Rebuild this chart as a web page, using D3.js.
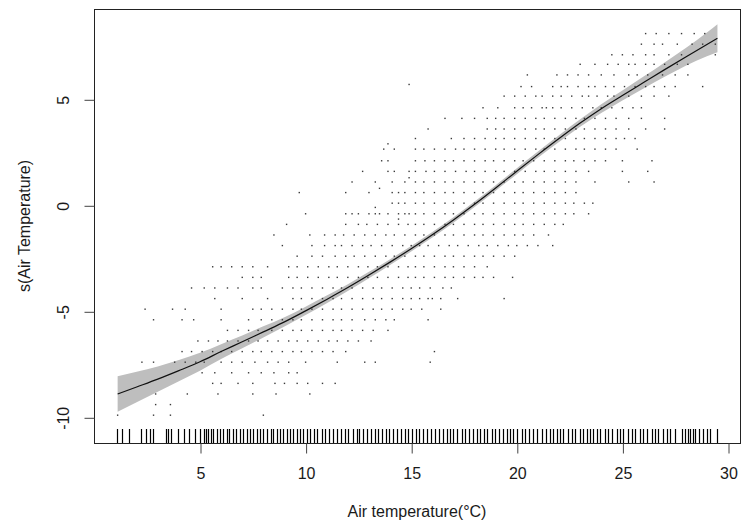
<!DOCTYPE html>
<html>
<head>
<meta charset="utf-8">
<script src="https://cdn.jsdelivr.net/npm/d3@7"></script>
<style>
  html, body { margin: 0; padding: 0; background: #fff; }
  svg text { font-family: "Liberation Sans", Arial, sans-serif; fill: #1a1a1a; }
</style>
</head>
<body>
<svg id="chart" width="742" height="529"></svg>
<script>
// ---- data ----
const xTicks = [5, 10, 15, 20, 25, 30];
const yTicks = [-10, -5, 0, 5];
const xTitle = "Air temperature(°C)";
const yTitle = "s(Air Temperature)";

// fitted smooth and half-width of the confidence band
const smoothX  = [1.1, 2, 3, 4, 5, 6, 7, 8, 9, 10, 11, 12, 13, 14, 15, 16, 17, 18, 19, 20, 21, 22, 23, 24, 25, 26, 27, 28, 29, 29.5];
const smoothY  = [-8.9, -8.57, -8.2, -7.8, -7.38, -6.9, -6.44, -5.97, -5.5, -4.98, -4.44, -3.88, -3.29, -2.68, -2.05, -1.39, -0.69, 0.05, 0.82, 1.61, 2.39, 3.15, 3.88, 4.56, 5.18, 5.79, 6.4, 7.0, 7.59, 7.88];
const smoothSE = [0.84, 0.72, 0.6, 0.5, 0.42, 0.35, 0.3, 0.26, 0.22, 0.2, 0.18, 0.16, 0.15, 0.14, 0.13, 0.13, 0.13, 0.13, 0.13, 0.14, 0.15, 0.16, 0.18, 0.21, 0.24, 0.28, 0.34, 0.42, 0.56, 0.66];

// partial residuals, grouped by residual level (rows)
const residLevels = [8.1, 7.6, 7.1, 6.65, 6.15, 5.7, 5.6, 5.15, 4.6, 4.1, 3.6, 3.15, 2.9, 2.65, 2.1, 1.6, 1.3, 1.1, 0.8, 0.6, 0.1, -0.1, -0.4, -0.65, -0.9, -1.4, -1.9, -2.4, -2.9, -3.4, -3.9, -4.4, -4.9, -5.4, -5.9, -6.4, -6.9, -7.4, -7.9, -8.4, -8.9, -9.4, -9.9];
const residTemps = [
  [26.1, 26.6, 27.2, 27.8, 28.4, 28.9],
  [25.9, 26.5, 26.9, 27.6, 28.3, 28.8, 29.4],
  [24.5, 25.0, 25.5, 26.1, 26.5, 27.2, 27.8, 29.4],
  [23.0, 23.7, 24.3, 24.8, 25.3, 25.6, 26.1, 26.5, 27.0, 27.6, 28.1],
  [20.5, 21.9, 22.4, 22.9, 23.4, 24.0, 24.6, 25.3, 25.7, 26.2, 26.9, 27.5, 28.1],
  [14.9],
  [20.2, 20.7, 21.7, 22.1, 22.4, 22.9, 23.4, 23.7, 24.2, 24.6, 25.1, 25.6, 26.1, 26.5, 27.0, 27.5, 28.8],
  [19.4, 19.9, 20.4, 20.9, 21.2, 21.7, 22.1, 22.6, 23.1, 23.4, 23.8, 24.3, 24.6, 25.3, 25.9, 26.5, 27.2],
  [18.4, 19.1, 19.9, 20.3, 20.7, 21.2, 21.4, 21.7, 22.1, 22.6, 23.1, 23.6, 24.0, 24.5, 25.0, 25.5, 25.9],
  [16.6, 17.4, 18.0, 18.6, 19.0, 19.4, 19.9, 20.4, 20.9, 21.3, 21.8, 22.3, 22.8, 23.2, 23.7, 24.2, 24.7, 25.3, 25.9, 27.0],
  [15.8, 18.6, 19.0, 19.4, 19.9, 20.4, 20.9, 21.3, 21.8, 22.3, 22.8, 23.2, 23.7, 24.2, 24.7, 25.3, 26.1, 27.0],
  [15.2, 16.9, 17.5, 18.0, 18.5, 19.0, 19.4, 19.9, 20.4, 20.9, 21.3, 21.8, 22.3, 22.8, 23.2, 23.7, 24.2, 24.7, 25.1, 25.6],
  [13.9],
  [13.7, 14.2, 15.2, 15.6, 16.1, 16.6, 17.1, 17.5, 18.0, 18.5, 19.0, 19.4, 19.9, 20.4, 20.9, 21.3, 21.8, 22.3, 22.8, 23.2, 23.7, 24.2, 24.7, 25.7],
  [13.6, 13.9, 15.2, 15.65, 16.1, 16.6, 17.0, 17.5, 18.0, 18.5, 18.9, 19.4, 19.9, 20.3, 20.8, 21.3, 21.8, 22.3, 22.7, 23.2, 23.7, 24.2, 25.0, 26.4],
  [12.7, 13.9, 14.2, 14.9, 15.2, 15.7, 16.1, 16.6, 17.1, 17.6, 18.0, 18.5, 19.0, 19.4, 19.9, 20.4, 20.9, 21.3, 21.8, 22.3, 22.8, 23.4, 25.0, 26.2],
  [14.9],
  [12.2, 13.3, 14.1, 14.7, 15.2, 15.6, 16.1, 16.6, 17.0, 17.5, 18.0, 18.4, 18.9, 19.4, 19.9, 20.3, 20.8, 21.3, 21.8, 22.3, 22.8, 23.7, 25.3, 26.5],
  [13.5],
  [9.7, 11.9, 13.0, 14.1, 14.4, 14.7, 15.2, 15.6, 16.1, 16.6, 17.0, 17.5, 18.0, 18.4, 18.9, 19.4, 19.9, 20.3, 20.8, 21.3, 21.8, 22.3, 22.8],
  [14.1, 14.4, 14.7, 15.2, 15.6, 16.1, 16.6, 17.0, 17.5, 18.0, 18.4, 18.9, 19.4, 19.9, 20.3, 20.8, 21.3, 21.8, 22.3, 22.7, 23.2, 23.6],
  [13.3],
  [10.0, 11.9, 12.2, 12.5, 13.0, 13.3, 13.5, 13.9, 14.4, 14.7, 14.9, 15.2, 15.6, 16.1, 16.6, 17.0, 17.5, 18.0, 18.4, 18.9, 19.4, 19.9, 20.3, 20.8, 21.3, 21.8, 22.3, 22.7, 23.4],
  [14.4],
  [9.1, 11.9, 12.5, 12.9, 13.4, 13.9, 14.4, 14.85, 15.2, 15.6, 16.1, 16.6, 17.0, 17.5, 18.0, 18.4, 18.9, 19.4, 19.9, 20.3, 20.8, 21.3, 21.8, 22.2],
  [8.5, 10.2, 10.9, 11.4, 11.8, 12.3, 12.8, 13.3, 13.8, 14.2, 14.7, 15.2, 15.6, 16.1, 16.6, 17.0, 17.5, 18.0, 18.4, 18.9, 19.4, 19.9, 20.3, 20.8, 21.5],
  [8.9, 10.3, 10.9, 11.4, 11.7, 12.2, 12.7, 13.1, 13.6, 14.1, 14.6, 15.0, 15.4, 15.8, 16.3, 16.8, 17.2, 17.7, 18.2, 18.6, 19.1, 19.6, 20.0, 20.5, 21.0, 21.7],
  [9.6, 10.3, 10.8, 11.4, 11.9, 12.3, 12.8, 13.3, 13.8, 14.2, 14.7, 15.2, 15.6, 16.1, 16.6, 17.0, 17.5, 18.0, 18.4, 18.9, 19.4, 19.9],
  [5.6, 6.0, 6.5, 7.0, 7.5, 8.2, 9.2, 9.6, 10.1, 10.6, 11.1, 11.5, 12.0, 12.5, 12.95, 13.4, 13.9, 14.4, 14.85, 15.2, 15.6, 16.1, 16.6, 17.0, 17.5, 18.0, 18.6],
  [7.0, 7.5, 7.9, 9.2, 9.6, 10.1, 10.6, 11.1, 11.5, 12.0, 12.5, 12.95, 13.4, 13.9, 14.4, 14.85, 15.2, 15.6, 16.1, 16.6, 17.0, 17.5, 18.0, 18.4, 18.9, 19.8],
  [4.6, 5.2, 5.7, 6.3, 6.8, 7.5, 7.9, 8.9, 9.4, 9.8, 10.3, 10.8, 11.3, 11.7, 12.2, 12.7, 13.2, 13.6, 14.1, 14.6, 15.0, 15.4, 15.9, 16.5, 16.9],
  [5.7, 7.0, 8.2, 9.4, 9.8, 10.3, 10.8, 11.3, 11.7, 12.2, 12.7, 13.2, 13.6, 14.1, 14.6, 15.0, 15.4, 15.8, 16.0, 16.4, 17.2, 19.4],
  [2.4, 3.7, 4.3, 6.0, 7.5, 7.9, 8.4, 8.9, 9.4, 9.8, 10.3, 10.8, 11.3, 11.7, 12.2, 12.7, 13.2, 13.6, 14.1, 14.6, 15.0, 15.5, 16.4],
  [2.8, 4.15, 4.7, 6.0, 7.3, 7.9, 8.4, 8.9, 9.4, 9.8, 10.3, 10.8, 11.3, 11.7, 12.2, 12.8, 13.3, 13.8, 14.2, 15.8],
  [6.3, 6.8, 7.3, 7.75, 8.4, 8.9, 9.4, 9.8, 10.3, 10.8, 11.3, 11.7, 12.2, 12.7, 13.2, 13.9],
  [4.9, 5.4, 5.85, 6.3, 6.8, 7.3, 7.75, 8.2, 8.7, 9.2, 9.6, 10.1, 10.6, 11.1, 11.5, 12.0, 12.5, 13.1],
  [4.15, 4.6, 5.1, 5.6, 6.0, 6.5, 7.0, 7.5, 7.9, 8.4, 8.9, 9.4, 9.8, 10.3, 10.8, 11.3, 11.9, 16.1],
  [2.25, 2.8, 3.8, 4.3, 4.8, 5.2, 6.0, 6.5, 7.0, 7.6, 8.2, 8.7, 9.2, 10.0, 11.5, 12.8, 13.3, 15.9],
  [5.1, 5.7, 6.5, 7.3, 7.9, 8.5, 9.2, 9.6],
  [5.6, 6.0, 6.8, 7.5, 8.55, 9.0, 9.6, 10.1, 10.8, 11.4],
  [2.9, 4.4, 5.85, 7.5, 8.6, 10.2],
  [2.9, 3.6],
  [1.1, 2.8, 3.6, 8.0]
];

// rug: observed temperatures
const rugTemps = [1.08, 1.32, 1.64, 2.19, 2.44, 2.63, 2.79, 3.39, 3.50, 3.63, 3.97, 4.24, 4.49, 4.76, 5.00, 5.19, 5.27, 5.39, 5.50, 5.63, 5.79, 5.95, 6.10, 6.26, 6.39, 6.55, 6.70, 6.89, 7.05, 7.21, 7.37, 7.52, 7.68, 7.84, 8.00, 8.16, 8.35, 8.47, 8.63, 8.79, 8.94, 9.10, 9.26, 9.42, 9.58, 9.73, 9.89, 10.05,
  10.21, 10.40, 10.55, 10.76, 10.92, 11.12, 11.31, 11.50, 11.66, 11.87, 12.02, 12.23, 12.42, 12.54, 12.70, 12.89, 13.08, 13.29, 13.44, 13.60, 13.81, 13.96, 14.15, 14.34, 14.50, 14.71, 14.86, 15.02, 15.23, 15.38, 15.54, 15.73, 15.92, 16.13, 16.33, 16.49, 16.68, 16.84, 16.99, 17.18, 17.39, 17.55, 17.75, 17.94, 18.10, 18.26, 18.45, 18.60, 18.81, 18.97, 19.17, 19.33, 19.52,
  19.68, 19.83, 19.99, 20.23, 20.39, 20.59, 20.78, 20.94, 21.18, 21.38, 21.57, 21.73, 21.89, 22.04, 22.20, 22.44, 22.60, 22.76, 22.99, 23.15, 23.31, 23.47, 23.62, 23.78, 23.94, 24.18, 24.33, 24.49, 24.73, 24.89, 25.04, 25.25, 25.44, 25.60, 25.83, 25.99, 26.15, 26.39, 26.54, 26.70, 26.94, 27.10, 27.25, 27.49, 27.81, 27.96, 28.09, 28.20, 28.33, 28.44, 28.64, 28.83, 28.99, 29.15, 29.46];

// ---- layout ----
const box = { left: 94, top: 9, right: 740, bottom: 443 };
const svg = d3.select("#chart");

const x = d3.scaleLinear().domain([5, 30]).range([200, 728]);
const y = d3.scaleLinear().domain([-10, 5]).range([417.3, 99.3]);

const smooth = smoothX.map((v, i) => ({ x: v, y: smoothY[i], se: smoothSE[i] }));

// confidence band
svg.append("path")
  .datum(smooth)
  .attr("d", d3.area().x(d => x(d.x)).y0(d => y(d.y - d.se)).y1(d => y(d.y + d.se)).curve(d3.curveMonotoneX))
  .attr("fill", "#bebebe")
  .attr("stroke", "none");

// residual points
const pts = [];
residLevels.forEach((lv, i) => residTemps[i].forEach(t => pts.push({ x: t, y: lv })));
svg.append("g").selectAll("rect").data(pts).join("rect")
  .attr("x", d => x(d.x) - 0.7)
  .attr("y", d => y(d.y) - 0.7)
  .attr("width", 1.4)
  .attr("height", 1.4)
  .attr("fill", "#3a3a3a");

// smooth line
svg.append("path")
  .datum(smooth)
  .attr("d", d3.line().x(d => x(d.x)).y(d => y(d.y)).curve(d3.curveMonotoneX))
  .attr("fill", "none")
  .attr("stroke", "#111")
  .attr("stroke-width", 1.2);

// rug
svg.append("g").selectAll("line").data(rugTemps).join("line")
  .attr("x1", d => Math.round(x(d)) + 0.5)
  .attr("x2", d => Math.round(x(d)) + 0.5)
  .attr("y1", box.bottom)
  .attr("y2", box.bottom - 14)
  .attr("stroke", "#000")
  .attr("stroke-width", 1.2);

// box
svg.append("rect")
  .attr("x", box.left + 0.5).attr("y", box.top + 0.5)
  .attr("width", box.right - box.left).attr("height", box.bottom - box.top)
  .attr("fill", "none").attr("stroke", "#222").attr("stroke-width", 1);

const fmt = d => String(d);

// x axis
const xAxis = d3.axisBottom(x).tickValues(xTicks).tickSize(10).tickFormat(fmt);
const gx = svg.append("g").attr("transform", `translate(0.5,${box.bottom + 0.5})`).call(xAxis);
gx.select(".domain").remove();
gx.selectAll(".tick line").attr("stroke", "#444");
gx.selectAll(".tick text").attr("font-size", 16).attr("fill", "#1a1a1a")
  .attr("font-family", '"Liberation Sans", Arial, sans-serif')
  .attr("dy", null).attr("y", 35);

// y axis
const yAxis = d3.axisLeft(y).tickValues(yTicks).tickSize(10).tickFormat(fmt);
const gy = svg.append("g").attr("transform", `translate(${box.left + 0.5},0.5)`).call(yAxis);
gy.select(".domain").remove();
gy.selectAll(".tick line").attr("stroke", "#444");
gy.selectAll(".tick text")
  .attr("font-size", 16).attr("fill", "#1a1a1a")
  .attr("font-family", '"Liberation Sans", Arial, sans-serif')
  .attr("x", null).attr("dy", null)
  .attr("text-anchor", "middle")
  .attr("transform", "translate(-26,0) rotate(-90)");

// titles
svg.append("text")
  .attr("x", (box.left + box.right) / 2).attr("y", 517)
  .attr("text-anchor", "middle").attr("font-size", 16)
  .text(xTitle);

svg.append("text")
  .attr("transform", `translate(30,${(box.top + box.bottom) / 2}) rotate(-90)`)
  .attr("text-anchor", "middle").attr("font-size", 16)
  .text(yTitle);
</script>
</body>
</html>
